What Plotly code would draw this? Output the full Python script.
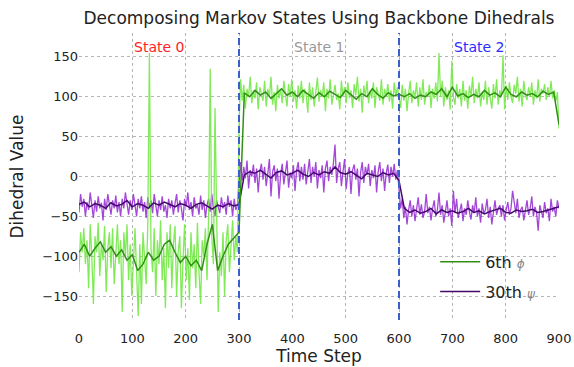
import plotly.graph_objects as go

# ---------------- data ----------------
raw_steps = list(range(0, 901, 3))
smooth_steps = list(range(0, 901, 10))

# 6th phi, raw, state 0 (steps 0..297)
phi6_raw_s0 = [
    -120, -70, -95, -65, -110, -80, -140, -60, -100, -160,
    -75, -95, -58, -125, -85, -105, -62, -145, -90, -70,
    -115, -65, -135, -95, -60, -110, -80, -170, -70, -100,
    -60, -130, -85, -150, -95, -65, -120, -175, -85, -160,
    -70, -105, -135, -60, 155, -90, -120, -65, -150, -80,
    -110, -55, -130, -90, -165, -70, -115, -60, -140, -85,
    -62, -150, -95, -75, -165, -105, -60, -130, -90, -155,
    -70, -115, -85, -140, -58, -120, -160, -80, -100, -65,
    -130, -50, 135, -75, -110, 86, -60, -170, -95, -125,
    -70, -150, -80, -60, -120, -90, -55, -105, -75, -95,
]
# state 1 (steps 300..597)
phi6_raw_s1 = [
    60, 122, 95, 115, 85, 110, 100, 125, 92, 108,
    98, 118, 84, 112, 102, 95, 120, 88, 110, 100,
    125, 90, 106, 82, 115, 98, 110, 92, 120, 104,
    88, 116, 100, 122, 94, 108, 85, 114, 98, 120,
    92, 110, 102, 80, 118, 96, 112, 88, 106, 124,
    94, 108, 100, 118, 82, 110, 98, 122, 90, 106,
    115, 96, 104, 84, 120, 100, 112, 92, 118, 98,
    108, 86, 116, 102, 125, 94, 110, 80, 114, 100,
    120, 92, 108, 98, 118, 86, 112, 104, 95, 122,
    90, 110, 100, 116, 94, 108, 85, 118, 100, 112,
]
# state 2 (steps 600..900)
phi6_raw_s2 = [
    98, 86, 115, 95, 110, 82, 104, 120, 92, 108,
    100, 118, 88, 112, 96, 122, 90, 106, 100, 115,
    86, 110, 98, 118, 94, 155, 100, 120, 88, 112,
    96, 108, 84, 145, 100, 90, 116, 98, 110, 88,
    120, 95, 108, 85, 114, 100, 125, 92, 110, 98,
    118, 88, 106, 96, 120, 90, 112, 100, 85, 116,
    98, 122, 90, 108, 100, 152, 84, 114, 96, 118,
    100, 92, 115, 104, 125, 94, 110, 88, 120, 102,
    96, 112, 100, 118, 90, 108, 98, 122, 94, 110,
    104, 116, 96, 112, 100, 120, 98, 108, 94, 106,
    60,
]

# 30th psi, raw
psi30_raw_s0 = [
    -45, -22, -38, -28, -50, -32, -42, -20, -36, -52,
    -30, -44, -25, -40, -33, -55, -28, -42, -22, -38,
    -48, -30, -40, -24, -45, -32, -50, -28, -40, -20,
    -38, -48, -30, -42, -22, -36, -50, -28, -40, -25,
    -44, -32, -52, -26, -40, -30, -46, -22, -38, -50,
    -30, -42, -25, -44, -36, -52, -28, -40, -30, -48,
    -34, -22, -45, -30, -40, -55, -28, -38, -20, -42,
    -32, -50, -26, -40, -35, -48, -24, -42, -30, -52,
    -36, -28, -44, -22, -40, -50, -30, -38, -46, -26,
    -40, -32, -48, -24, -38, -30, -50, -28, -42, -36,
]
psi30_raw_s1 = [
    -10, 18, -5, 12, -2, 20, -15, 8, 0, 15,
    -8, 10, -20, 6, 16, -4, 12, -12, 4, 22,
    -25, 6, 14, -6, 10, -28, 2, 16, -10, 8,
    20, -14, 5, -2, 14, -18, 8, 18, -6, 12,
    -4, 16, -10, 6, 22, -8, 12, 0, 18, -15,
    8, -2, 14, -20, 10, 20, -6, 12, 2, 16,
    40, -8, 10, 18, -12, 6, 22, -16, 4, 12,
    -22, 8, 15, -4, 10, -25, 5, 18, -8, 12,
    2, 16, -12, 8, -2, 14, -20, 6, 18, -6,
    10, -18, 4, 15, -8, 12, 0, 16, -4, 8,
]
psi30_raw_s2 = [
    -15, -40, -28, -52, -38, -60, -42, -30, -50, -36,
    -56, -40, -26, -48, -35, -52, -44, -22, -46, -38,
    -55, -40, -30, -50, -42, -20, -48, -36, -58, -44,
    -30, -50, -40, -62, -18, -46, -28, -52, -42, -34,
    -56, -40, -48, -30, -44, -54, -36, -46, -26, -50,
    -40, -58, -34, -46, -42, -28, -52, -38, -60, -44,
    -30, -48, -40, -36, -50, -36, -55, -42, -32, -48,
    -40, -18, -34, -46, -28, -52, -42, -38, -55, -44,
    -30, -48, -40, -25, -50, -38, -46, -68, -36, -44,
    -52, -32, -46, -40, -56, -28, -44, -38, -50, -30,
    -40,
]

phi6_smooth = [
    -95, -85, -100, -90, -82, -95, -88, -100, -92, -105,
    -98, -118, -110, -95, -105, -100, -85, -80, -95, -108,
    -100, -112, -105, -118, -85, -60, -118, -100, -85, -78,
    -70, 105, 100, 108, 102, 106, 98, 104, 110, 102,
    106, 100, 108, 103, 98, 105, 100, 107, 103, 99,
    108, 102, 97, 104, 100, 110, 103, 98, 105, 101,
    103, 100, 104, 98, 102, 100, 106, 103, 110, 100,
    112, 101, 104, 99, 103, 100, 108, 102, 105, 100,
    112, 103, 100, 106, 102, 104, 100, 107, 103, 106,
    65,
]

psi30_smooth = [
    -35, -32, -38, -34, -36, -40, -33, -37, -35, -30,
    -38, -34, -36, -40, -33, -36, -32, -35, -38, -34,
    -36, -40, -35, -33, -37, -41, -36, -38, -34, -37,
    -35, 2, 6, 4, 8, 3, -2, 5, 7, 2,
    4, 8, 3, 0, 5, 2, 6, 4, 12, 5,
    3, 6, 1, -3, 4, 2, 0, 5, 2, 4,
    -5, -40, -45, -42, -46, -44, -40, -47, -42, -45,
    -43, -46, -44, -40, -45, -43, -47, -44, -42, -40,
    -45, -46, -42, -44, -43, -41, -45, -44, -42, -40,
    -38,
]

phi6_raw = phi6_raw_s0 + phi6_raw_s1 + phi6_raw_s2
psi30_raw = psi30_raw_s0 + psi30_raw_s1 + psi30_raw_s2

state_bounds = [300, 600]
state_names = ["State 0", "State 1", "State 2"]
state_label_x = [150, 450, 750]
state_colors = ["#ff2222", "#999999", "#2b2bff"]

x_ticks = list(range(0, 901, 100))
y_ticks = [-150, -100, -50, 0, 50, 100, 150]

FONT = "DejaVu Sans"
TXT = "#222222"

fig = go.Figure()

# raw series
fig.add_trace(go.Scatter(x=raw_steps, y=psi30_raw, mode="lines",
                         line=dict(color="rgba(150,45,212,0.88)", width=1.3),
                         showlegend=False, hoverinfo="skip"))
fig.add_trace(go.Scatter(x=raw_steps, y=phi6_raw, mode="lines",
                         line=dict(color="rgba(115,232,70,0.9)", width=1.3),
                         showlegend=False, hoverinfo="skip"))
# smoothed series
fig.add_trace(go.Scatter(x=smooth_steps, y=psi30_smooth, mode="lines",
                         line=dict(color="#43096a", width=1.5),
                         name="30th <span style='font-size:12px;color:#888'><i>ψ</i></span>",
                         legendrank=2, legendgroup="b"))
fig.add_trace(go.Scatter(x=smooth_steps, y=phi6_smooth, mode="lines",
                         line=dict(color="#318f16", width=1.5),
                         name="6th <span style='font-size:12px;color:#888'><i>ϕ</i></span>",
                         legendrank=1, legendgroup="a"))

shapes = []
for b in state_bounds:
    shapes.append(dict(type="line", xref="x", yref="y", x0=b, x1=b, y0=-180, y1=180,
                       line=dict(color="#3a5fcd", width=2, dash="7px,4px")))

annotations = []
for nm, xx, col in zip(state_names, state_label_x, state_colors):
    annotations.append(dict(x=xx, y=163, xref="x", yref="y", text=nm, showarrow=False,
                            font=dict(family=FONT, size=14, color=col),
                            xanchor="center", yanchor="middle"))

fig.update_layout(
    width=574, height=367,
    margin=dict(l=79, r=15, t=33, b=47, autoexpand=False),
    paper_bgcolor="white", plot_bgcolor="white",
    font=dict(family=FONT, size=13, color=TXT),
    title=dict(text="Decomposing Markov States Using Backbone Dihedrals",
               x=0.5, xref="paper", xanchor="center", y=0.95, yanchor="middle",
               font=dict(family=FONT, size=17, color=TXT)),
    shapes=shapes, annotations=annotations,
    legend=dict(x=0.742, xanchor="left", y=0.262, yanchor="top", itemwidth=40,
                bgcolor="rgba(255,255,255,0)", font=dict(family=FONT, size=16, color=TXT),
                traceorder="grouped", tracegroupgap=6),
)
fig.update_xaxes(range=[0, 900], tickvals=x_ticks, showgrid=True, gridcolor="#b5b5b5",
                 griddash="dot", gridwidth=1, zeroline=False, showline=False, ticks="",
                 ticklabelstandoff=9,
                 title=dict(text="Time Step", font=dict(family=FONT, size=17, color=TXT), standoff=4),
                 tickfont=dict(size=13, color=TXT))
fig.update_yaxes(range=[-180, 180], tickvals=y_ticks, showgrid=True, gridcolor="#b5b5b5",
                 griddash="dot", gridwidth=1, zeroline=False, showline=False, ticks="",
                 title=dict(text="Dihedral Value", font=dict(family=FONT, size=17, color=TXT), standoff=14),
                 tickfont=dict(size=13, color=TXT))

fig.write_html("out.html")
